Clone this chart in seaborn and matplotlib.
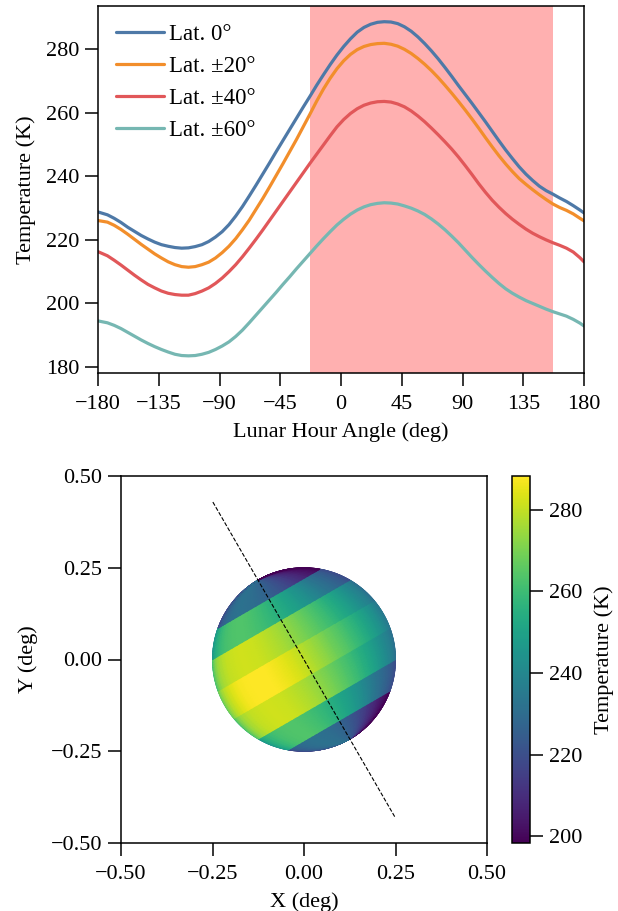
# -*- coding: utf-8 -*-
import matplotlib
matplotlib.use('Agg')
import matplotlib.pyplot as plt
import numpy as np
import pandas as pd
import seaborn as sns

# values
hour_angle = [-180, -173, -168, -163, -158, -153, -148, -143, -138, -133, -128, -123, -118, -113,
              -108, -103, -98, -93, -88, -83, -78, -73, -68, -63, -58, -53, -48, -43, -38, -33,
              -28, -23, -18, -13, -8, -3, 2, 7, 12, 17, 22, 27, 32, 37, 42, 47, 52, 57, 62, 67,
              72, 77, 82, 87, 92, 97, 102, 107, 112, 117, 122, 127, 132, 137, 142, 147, 152, 157,
              162, 167, 172, 177, 180]
lat_0 = [228.8, 227.9, 226.8, 225.5, 224.0, 222.7, 221.4, 220.3, 219.3, 218.5, 218.0, 217.6, 217.4,
         217.5, 217.9, 218.5, 219.5, 220.9, 222.6, 224.8, 227.5, 230.5, 233.8, 237.2, 240.7, 244.2,
         247.8, 251.3, 254.8, 258.3, 261.8, 265.2, 268.7, 272.0, 275.2, 278.2, 280.9, 283.3, 285.4,
         286.9, 287.9, 288.5, 288.7, 288.6, 288.1, 287.1, 285.7, 283.9, 281.8, 279.5, 277.0, 274.3,
         271.5, 268.6, 265.8, 263.0, 260.1, 257.2, 254.2, 251.2, 248.3, 245.6, 243.0, 240.7, 238.7,
         236.9, 235.5, 234.4, 233.2, 232.1, 230.8, 229.4, 228.5]
lat_20 = [226.1, 225.6, 224.6, 223.3, 221.8, 220.2, 218.6, 217.1, 215.6, 214.3, 213.1, 212.2, 211.6,
          211.4, 211.6, 212.2, 213.0, 214.3, 216.0, 218.0, 220.4, 223.2, 226.2, 229.6, 233.0, 236.6,
          240.3, 244.0, 247.8, 251.6, 255.6, 259.6, 263.7, 267.5, 270.9, 273.9, 276.4, 278.4, 279.9,
          280.9, 281.5, 281.8, 281.9, 281.6, 281.0, 280.0, 278.7, 277.1, 275.3, 273.3, 271.1, 268.7,
          266.2, 263.6, 260.9, 258.1, 255.2, 252.2, 249.3, 246.5, 243.9, 241.5, 239.3, 237.5, 235.8,
          234.2, 232.7, 231.3, 230.2, 229.3, 228.2, 226.8, 226.0]
lat_40 = [216.3, 215.0, 213.6, 212.1, 210.5, 208.9, 207.4, 206.0, 204.9, 203.9, 203.2, 202.8, 202.6,
          202.6, 203.1, 203.9, 204.9, 206.3, 208.0, 210.0, 212.2, 214.7, 217.4, 220.2, 223.1, 226.1,
          229.1, 232.1, 235.1, 238.1, 241.1, 244.1, 247.0, 249.9, 252.8, 255.6, 257.9, 259.8, 261.3,
          262.4, 263.1, 263.5, 263.6, 263.4, 262.8, 261.9, 260.6, 259.0, 257.2, 255.2, 253.1, 250.9,
          248.6, 246.1, 243.4, 240.6, 237.7, 235.0, 232.5, 230.3, 228.3, 226.5, 224.9, 223.4, 222.1,
          221.0, 220.0, 219.1, 218.3, 217.4, 216.2, 214.4, 213.1]
lat_60 = [194.5, 193.9, 193.1, 192.1, 190.9, 189.7, 188.5, 187.4, 186.4, 185.5, 184.7, 184.0, 183.6,
          183.5, 183.6, 184.0, 184.6, 185.5, 186.6, 187.9, 189.6, 191.6, 193.9, 196.3, 198.7, 201.1,
          203.5, 206.0, 208.4, 210.9, 213.3, 215.7, 218.1, 220.4, 222.6, 224.7, 226.5, 228.1, 229.4,
          230.4, 231.1, 231.5, 231.7, 231.6, 231.3, 230.7, 230.0, 229.1, 228.0, 226.6, 225.0, 223.2,
          221.2, 219.1, 216.8, 214.5, 212.3, 210.2, 208.2, 206.3, 204.6, 203.2, 202.0, 200.9, 200.0,
          199.1, 198.2, 197.4, 196.7, 196.0, 195.0, 193.8, 192.9]
series_names = ['Lat. 0°', 'Lat. ±20°', 'Lat. ±40°', 'Lat. ±60°']
series_colors = ['#4e79a7', '#f28e2b', '#e15759', '#76b7b2']
curves = [lat_0, lat_20, lat_40, lat_60]

visible_ha = [-23, 157]
band_edges = [-90, -50, -30, -10, 10, 30, 50, 90]
band_curve = [3, 2, 1, 0, 1, 2, 3]
disk_radius = 0.25
axis_tilt = 30.
axis_x = [-0.249, 0.25]
axis_y = [0.429, -0.432]
t_limits = [198.3, 288.3]

sns.set_theme(style='ticks', rc={'axes.linewidth': 1.1, 'xtick.major.size': 9.5, 'ytick.major.size': 9.5,
                                 'xtick.major.width': 1.1, 'ytick.major.width': 1.1,
                                 'xtick.major.pad': 6, 'ytick.major.pad': 4,
                                 'xtick.labelsize': 16, 'ytick.labelsize': 16, 'axes.labelsize': 16,
                                 'legend.fontsize': 16.4, 'axes.edgecolor': 'black',
                                 'xtick.color': 'black', 'ytick.color': 'black', 'text.color': 'black',
                                 'axes.labelcolor': 'black'})
plt.rcParams['font.family'] = ['Liberation Serif', 'DejaVu Sans']

W, H = 618., 911.
fig = plt.figure(figsize=(W / 100, H / 100), dpi=100)


def px_axes(x0, y0, x1, y1):
    return fig.add_axes([x0 / W, 1 - y1 / H, (x1 - x0) / W, (y1 - y0) / H])


# top panel
ax = px_axes(98, 5.5, 584, 373)
data = pd.DataFrame({'ha': hour_angle * 4,
                     'temp': lat_0 + lat_20 + lat_40 + lat_60,
                     'lat': [n for n in series_names for _ in hour_angle]})
ax.axvspan(visible_ha[0], visible_ha[1], color='red', alpha=0.31, lw=0, zorder=0)
sns.lineplot(data=data, x='ha', y='temp', hue='lat', hue_order=series_names, palette=series_colors,
             lw=2.3, ax=ax)
ax.set_xlim(-180, 180)
ax.set_ylim(178.1, 293.8)
ax.set_xticks([-180, -135, -90, -45, 0, 45, 90, 135, 180])
ax.set_yticks([180, 200, 220, 240, 260, 280])
ax.set_xlabel('Lunar Hour Angle (deg)', labelpad=6)
ax.set_ylabel('Temperature (K)', labelpad=7)
ax.legend(loc='upper left', frameon=False, handlelength=2.1, handletextpad=0.2, labelspacing=0.49,
          borderaxespad=0.4, borderpad=0.4)

# bottom panel, the same curves laid on the visible hemisphere
ax2 = px_axes(121, 476, 487, 843)
tilt = np.radians(axis_tilt)
ha = np.array(hour_angle)
keep = (ha >= visible_ha[0]) & (ha <= visible_ha[1])
lon = np.radians(ha[keep] - np.mean(visible_ha))
for i, c in enumerate(band_curve):
    lat = np.radians(np.linspace(band_edges[i], band_edges[i + 1], 13))
    lon2, lat2 = np.meshgrid(lon, lat)
    xp = disk_radius * np.cos(lat2) * np.sin(lon2)
    yp = disk_radius * np.sin(lat2)
    xx = xp * np.cos(tilt) - yp * np.sin(tilt)
    yy = xp * np.sin(tilt) + yp * np.cos(tilt)
    temp = np.tile(np.array(curves[c])[keep], (len(lat), 1))
    mesh = ax2.pcolormesh(xx, yy, temp, shading='gouraud', cmap='viridis',
                          vmin=t_limits[0], vmax=t_limits[1])
ax2.plot(axis_x, axis_y, color='black', ls='--', lw=0.8)
ax2.set_xlim(-0.5, 0.5)
ax2.set_ylim(-0.5, 0.5)
ax2.set_xticks([-0.5, -0.25, 0, 0.25, 0.5])
ax2.set_yticks([-0.5, -0.25, 0, 0.25, 0.5])
ax2.set_xticklabels(['\u22120.50', '\u22120.25', '0.00', '0.25', '0.50'])
ax2.set_yticklabels(['\u22120.50', '\u22120.25', '0.00', '0.25', '0.50'])
ax2.set_xlabel('X (deg)', labelpad=6)
ax2.set_ylabel('Y (deg)', labelpad=9)

cax = px_axes(512, 476, 530, 843)
cb = fig.colorbar(mesh, cax=cax)
cb.set_ticks([200, 220, 240, 260, 280])
cb.set_label('Temperature (K)', labelpad=9)

fig.savefig('out.png', dpi=100)
